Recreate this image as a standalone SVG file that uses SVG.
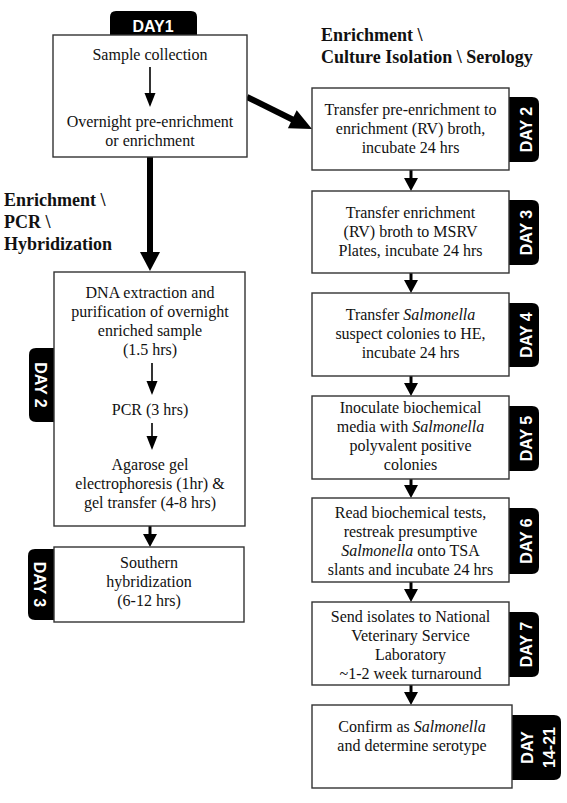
<svg xmlns="http://www.w3.org/2000/svg" width="567" height="803" viewBox="0 0 567 803">
<style>
.box{fill:#fff;stroke:#333;stroke-width:1.4}
.tab{fill:#000}
.t{font-family:"Liberation Serif","Times New Roman",serif;font-size:16px;fill:#111;text-anchor:middle}
.h{font-family:"Liberation Serif","Times New Roman",serif;font-size:18px;font-weight:bold;fill:#111}
.d{font-family:"Liberation Sans",Arial,sans-serif;font-size:16px;font-weight:bold;fill:#fff;text-anchor:middle}
.i{font-style:italic}
.ln{stroke:#000;fill:none}
.ah{fill:#000}
</style>
<rect width="567" height="803" fill="#fff"/>

<text class="h" x="4" y="206">Enrichment \</text>
<text class="h" x="4" y="228">PCR \</text>
<text class="h" x="4" y="250">Hybridization</text>
<text class="h" x="321" y="41">Enrichment \</text>
<text class="h" x="321" y="63">Culture Isolation \ Serology</text>

<g id="connectors">
  <line class="ln" x1="150" y1="157" x2="150" y2="253" stroke-width="6"/>
  <polygon class="ah" points="140,252 160,252 150,271"/>
  <line class="ln" x1="247" y1="97" x2="293" y2="119.8" stroke-width="6"/>
  <polygon class="ah" points="312,129 287.9,128.3 296.7,110.3"/>
  <line class="ln" x1="150" y1="526" x2="150" y2="535" stroke-width="3"/>
  <polygon class="ah" points="143,534 157,534 150,547"/>
  <line class="ln" x1="411" y1="170" x2="411" y2="179" stroke-width="3"/>
  <polygon class="ah" points="404,178 418,178 411,191"/>
  <line class="ln" x1="411" y1="273" x2="411" y2="281" stroke-width="3"/>
  <polygon class="ah" points="404,280 418,280 411,293"/>
  <line class="ln" x1="411" y1="376" x2="411" y2="384" stroke-width="3"/>
  <polygon class="ah" points="404,383 418,383 411,396"/>
  <line class="ln" x1="411" y1="479" x2="411" y2="486" stroke-width="3"/>
  <polygon class="ah" points="404,485 418,485 411,498"/>
  <line class="ln" x1="411" y1="582" x2="411" y2="590" stroke-width="3"/>
  <polygon class="ah" points="404,589 418,589 411,602"/>
  <line class="ln" x1="411" y1="685" x2="411" y2="693" stroke-width="3"/>
  <polygon class="ah" points="404,692 418,692 411,705"/>
</g>

<g id="day1-node">
  <path class="tab" d="M110,35 V17 Q110,11 116,11 H191 Q197,11 197,17 V35 Z"/>
  <text class="d" x="153" y="32">DAY1</text>
  <rect class="box" x="53" y="35" width="194" height="122"/>
  <text class="t" x="150" y="60">Sample collection</text>
  <line class="ln" x1="150" y1="67" x2="150" y2="94" stroke-width="1.6"/>
  <polygon class="ah" points="144.5,93 155.5,93 150,107"/>
  <text class="t" x="150" y="127">Overnight pre-enrichment</text>
  <text class="t" x="150" y="146">or enrichment</text>
</g>

<g id="pcr-node">
  <path class="tab" d="M54,348 H36 Q29,348 29,355 V415 Q29,422 36,422 H54 Z"/>
  <text class="d" transform="translate(35,385) rotate(90)">DAY 2</text>
  <rect class="box" x="54" y="272" width="191" height="254"/>
  <text class="t" x="150" y="298">DNA extraction and</text>
  <text class="t" x="150" y="317">purification of overnight</text>
  <text class="t" x="150" y="336">enriched sample</text>
  <text class="t" x="150" y="355">(1.5 hrs)</text>
  <line class="ln" x1="152" y1="363" x2="152" y2="382" stroke-width="1.6"/>
  <polygon class="ah" points="146.5,381 157.5,381 152,395"/>
  <text class="t" x="150" y="415">PCR (3 hrs)</text>
  <line class="ln" x1="152" y1="423" x2="152" y2="437" stroke-width="1.6"/>
  <polygon class="ah" points="146.5,436 157.5,436 152,450"/>
  <text class="t" x="150" y="470">Agarose gel</text>
  <text class="t" x="150" y="489">electrophoresis (1hr) &amp;</text>
  <text class="t" x="150" y="508">gel transfer (4-8 hrs)</text>
</g>

<g id="southern-node">
  <path class="tab" d="M54,549 H35 Q28,549 28,556 V613 Q28,620 35,620 H54 Z"/>
  <text class="d" transform="translate(34,584.5) rotate(90)">DAY 3</text>
  <rect class="box" x="54" y="547" width="190" height="75"/>
  <text class="t" x="149" y="568">Southern</text>
  <text class="t" x="149" y="587">hybridization</text>
  <text class="t" x="149" y="606">(6-12 hrs)</text>
</g>

<g id="enrich-node">
  <path class="tab" d="M509,97 H532 Q539,97 539,104 V155 Q539,162 532,162 H509 Z"/>
  <text class="d" transform="translate(532,129.5) rotate(-90)">DAY 2</text>
  <rect class="box" x="312" y="88" width="197" height="82"/>
  <text class="t" x="410.5" y="115">Transfer pre-enrichment to</text>
  <text class="t" x="410.5" y="134">enrichment (RV) broth,</text>
  <text class="t" x="410.5" y="153">incubate 24 hrs</text>
</g>

<g id="msrv-node">
  <path class="tab" d="M509,200 H532 Q539,200 539,207 V258 Q539,265 532,265 H509 Z"/>
  <text class="d" transform="translate(532,232.5) rotate(-90)">DAY 3</text>
  <rect class="box" x="312" y="191" width="197" height="82"/>
  <text class="t" x="410.5" y="218">Transfer enrichment</text>
  <text class="t" x="410.5" y="237">(RV) broth to MSRV</text>
  <text class="t" x="410.5" y="256">Plates, incubate 24 hrs</text>
</g>

<g id="he-node">
  <path class="tab" d="M509,303 H532 Q539,303 539,310 V360 Q539,367 532,367 H509 Z"/>
  <text class="d" transform="translate(532,335) rotate(-90)">DAY 4</text>
  <rect class="box" x="312" y="293" width="197" height="83"/>
  <text class="t" x="410.5" y="320">Transfer <tspan class="i">Salmonella</tspan></text>
  <text class="t" x="410.5" y="339">suspect colonies to HE,</text>
  <text class="t" x="410.5" y="358">incubate 24 hrs</text>
</g>

<g id="biochem-node">
  <path class="tab" d="M509,406 H532 Q539,406 539,413 V464 Q539,471 532,471 H509 Z"/>
  <text class="d" transform="translate(532,438.5) rotate(-90)">DAY 5</text>
  <rect class="box" x="312" y="396" width="197" height="83"/>
  <text class="t" x="410.5" y="413">Inoculate biochemical</text>
  <text class="t" x="410.5" y="432">media with <tspan class="i">Salmonella</tspan></text>
  <text class="t" x="410.5" y="451">polyvalent positive</text>
  <text class="t" x="410.5" y="470">colonies</text>
</g>

<g id="tsa-node">
  <path class="tab" d="M509,508 H532 Q539,508 539,515 V567 Q539,574 532,574 H509 Z"/>
  <text class="d" transform="translate(532,541) rotate(-90)">DAY 6</text>
  <rect class="box" x="312" y="498" width="197" height="84"/>
  <text class="t" x="410.5" y="518">Read biochemical tests,</text>
  <text class="t" x="410.5" y="537">restreak presumptive</text>
  <text class="t" x="410.5" y="556"><tspan class="i">Salmonella</tspan> onto TSA</text>
  <text class="t" x="410.5" y="575">slants and incubate 24 hrs</text>
</g>

<g id="nvsl-node">
  <path class="tab" d="M509,612 H532 Q539,612 539,619 V670 Q539,677 532,677 H509 Z"/>
  <text class="d" transform="translate(532,644.5) rotate(-90)">DAY 7</text>
  <rect class="box" x="312" y="602" width="197" height="83"/>
  <text class="t" x="410.5" y="622">Send isolates to National</text>
  <text class="t" x="410.5" y="641">Veterinary Service</text>
  <text class="t" x="410.5" y="660">Laboratory</text>
  <text class="t" x="410.5" y="679">~1-2 week turnaround</text>
</g>

<g id="confirm-node">
  <path class="tab" d="M512,715 H554 Q561,715 561,722 V773 Q561,780 554,780 H512 Z"/>
  <text class="d" transform="translate(533,747.5) rotate(-90)">DAY</text>
  <text class="d" transform="translate(555,747.5) rotate(-90)">14-21</text>
  <rect class="box" x="312" y="705" width="200" height="83"/>
  <text class="t" x="412" y="732">Confirm as <tspan class="i">Salmonella</tspan></text>
  <text class="t" x="412" y="751">and determine serotype</text>
</g>
</svg>
